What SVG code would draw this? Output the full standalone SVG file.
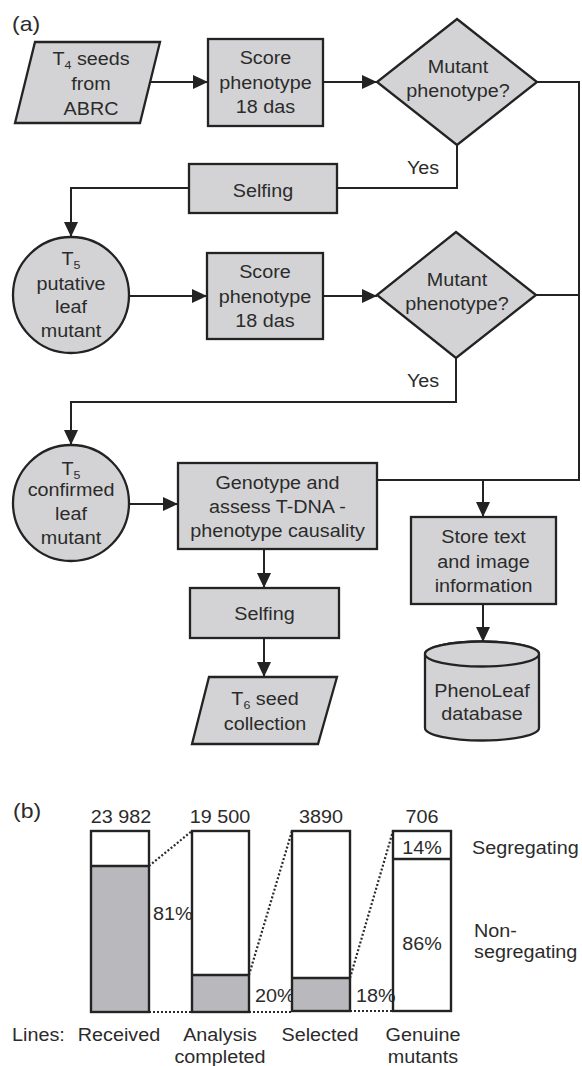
<svg xmlns="http://www.w3.org/2000/svg" width="582" height="1066" viewBox="0 0 582 1066">
<style>
.n{fill:#d3d3d5;stroke:#232323;stroke-width:2.3}
.t{font-family:"Liberation Sans",Arial,Helvetica,sans-serif;font-size:17.5px;fill:#2b2b2b;text-anchor:middle}
.s{font-size:11px}
.c{fill:none;stroke:#232323;stroke-width:2}
.a{marker-end:url(#ah)}
.d{fill:none;stroke:#2b2b2b;stroke-width:2.2;stroke-dasharray:2 2}
.bar{fill:none;stroke:#232323;stroke-width:2.4}
.g{fill:#b9b9bd;stroke:none}
.b{font-family:"Liberation Sans",Arial,Helvetica,sans-serif;font-size:18.5px;fill:#2b2b2b}
.m{text-anchor:middle}
.lbl{font-family:"Liberation Sans",Arial,Helvetica,sans-serif;font-size:20px;fill:#2b2b2b}
</style>
<defs>
<marker id="ah" markerUnits="userSpaceOnUse" markerWidth="15" markerHeight="14" refX="15" refY="7" orient="auto">
<path d="M0,0 L15,7 L0,14 Z" fill="#232323"/>
</marker>
</defs>
<rect width="582" height="1066" fill="#fff"/>

<text class="lbl" transform="translate(12,0) scale(1.15,1)" x="0" y="31">(a)</text>

<g id="connectors">
<path class="c a" d="M150,82 H208"/>
<path class="c a" d="M323,82 H377"/>
<path class="c" d="M457,145 V188 H337"/>
<path class="c a" d="M189,188 H71 V237"/>
<path class="c a" d="M129,296 H207"/>
<path class="c a" d="M323,296 H377"/>
<path class="c a" d="M456,358 V402 H71 V445"/>
<path class="c a" d="M129,504 H178"/>
<path class="c" d="M537,82 H579 V480 H377"/>
<path class="c" d="M536,295 H579"/>
<path class="c a" d="M483,480 V517"/>
<path class="c a" d="M483,604 V642"/>
<path class="c a" d="M264,549 V588"/>
<path class="c a" d="M264,638 V677"/>
</g>

<g id="t4seeds">
<polygon class="n" points="35,42 160,42 140,123 15,123"/>
<text class="t" transform="translate(91,0) scale(1.13,1)"><tspan x="0" y="65">T<tspan class="s" dy="4">4</tspan><tspan dy="-4"> seeds</tspan></tspan><tspan x="0" y="90">from</tspan><tspan x="0" y="115">ABRC</tspan></text>
</g>

<g id="score1">
<rect class="n" x="208" y="39" width="115" height="87"/>
<text class="t" transform="translate(265.5,0) scale(1.13,1)"><tspan x="0" y="64">Score</tspan><tspan x="0" y="89">phenotype</tspan><tspan x="0" y="113">18 das</tspan></text>
</g>

<g id="decision1">
<polygon class="n" points="457,19 537,82 457,145 377,82"/>
<text class="t" transform="translate(458,0) scale(1.13,1)"><tspan x="0" y="73">Mutant</tspan><tspan x="0" y="97">phenotype?</tspan></text>
</g>
<text class="t" transform="translate(423,0) scale(1.13,1)" x="0" y="174">Yes</text>

<g id="selfing1">
<rect class="n" x="189" y="164" width="148" height="49"/>
<text class="t" transform="translate(263,0) scale(1.13,1)" x="0" y="197">Selfing</text>
</g>

<g id="t5putative">
<circle class="n" cx="71" cy="295" r="58"/>
<text class="t" transform="translate(71,0) scale(1.13,1)"><tspan x="0" y="265">T<tspan class="s" dy="4">5</tspan></tspan><tspan x="0" y="290">putative</tspan><tspan x="0" y="313">leaf</tspan><tspan x="0" y="337">mutant</tspan></text>
</g>

<g id="score2">
<rect class="n" x="207" y="253" width="116" height="86"/>
<text class="t" transform="translate(265,0) scale(1.13,1)"><tspan x="0" y="278">Score</tspan><tspan x="0" y="303">phenotype</tspan><tspan x="0" y="327">18 das</tspan></text>
</g>

<g id="decision2">
<polygon class="n" points="456,232 536,295 456,358 377,295"/>
<text class="t" transform="translate(457,0) scale(1.13,1)"><tspan x="0" y="286">Mutant</tspan><tspan x="0" y="310">phenotype?</tspan></text>
</g>
<text class="t" transform="translate(423,0) scale(1.13,1)" x="0" y="387">Yes</text>

<g id="t5confirmed">
<circle class="n" cx="71" cy="503" r="58"/>
<text class="t" transform="translate(71,0) scale(1.13,1)"><tspan x="0" y="475">T<tspan class="s" dy="4">5</tspan></tspan><tspan x="0" y="496">confirmed</tspan><tspan x="0" y="520">leaf</tspan><tspan x="0" y="544">mutant</tspan></text>
</g>

<g id="genotype">
<rect class="n" x="178" y="463" width="199" height="86"/>
<text class="t" transform="translate(277.5,0) scale(1.13,1)"><tspan x="0" y="489">Genotype and</tspan><tspan x="0" y="513">assess T-DNA -</tspan><tspan x="0" y="537">phenotype causality</tspan></text>
</g>

<g id="store">
<rect class="n" x="411" y="517" width="145" height="87"/>
<text class="t" transform="translate(483.5,0) scale(1.13,1)"><tspan x="0" y="543">Store text</tspan><tspan x="0" y="568">and image</tspan><tspan x="0" y="592">information</tspan></text>
</g>

<g id="database">
<path class="n" d="M425,654 V728 A57,12.5 0 0 0 539,728 V654 A57,12.5 0 0 0 425,654 Z"/>
<ellipse class="n" cx="482" cy="654" rx="57" ry="12.5"/>
<text class="t" transform="translate(482,0) scale(1.13,1)"><tspan x="0" y="697">PhenoLeaf</tspan><tspan x="0" y="720">database</tspan></text>
</g>

<g id="selfing2">
<rect class="n" x="190" y="588" width="149" height="50"/>
<text class="t" transform="translate(264.5,0) scale(1.13,1)" x="0" y="620">Selfing</text>
</g>

<g id="t6seed">
<polygon class="n" points="209,677 337,677 318,744 192,744"/>
<text class="t" transform="translate(265,0) scale(1.13,1)"><tspan x="0" y="705">T<tspan class="s" dy="4">6</tspan><tspan dy="-4"> seed</tspan></tspan><tspan x="0" y="730">collection</tspan></text>
</g>

<text class="lbl" transform="translate(13,0) scale(1.15,1)" x="0" y="818">(b)</text>

<g id="chart-links">
<path class="d" d="M149,866 L192,831"/>
<path class="d" d="M149,1012 L192,1012"/>
<path class="d" d="M249,975 L292,831"/>
<path class="d" d="M249,1012 L292,1012"/>
<path class="d" d="M350,978 L393,831"/>
<path class="d" d="M350,1011 L393,1011"/>
</g>

<g id="bar-received">
<rect class="g" x="91" y="866" width="58" height="146"/>
<rect class="bar" x="91" y="831" width="58" height="181"/>
<line class="c" x1="91" y1="866" x2="149" y2="866" style="stroke-width:2.4"/>
<text class="b m" transform="translate(121,0) scale(1.07,1)" x="0" y="823">23 982</text>
<text class="b" transform="translate(153,0) scale(1.07,1)" x="0" y="920">81%</text>
</g>

<g id="bar-analysis">
<rect class="g" x="192" y="975" width="57" height="37"/>
<rect class="bar" x="192" y="831" width="57" height="181"/>
<line class="c" x1="192" y1="975" x2="249" y2="975" style="stroke-width:2.4"/>
<text class="b m" transform="translate(220,0) scale(1.07,1)" x="0" y="823">19 500</text>
<text class="b" transform="translate(255,0) scale(1.07,1)" x="0" y="1002">20%</text>
</g>

<g id="bar-selected">
<rect class="g" x="292" y="978" width="58" height="33"/>
<rect class="bar" x="292" y="831" width="58" height="180"/>
<line class="c" x1="292" y1="978" x2="350" y2="978" style="stroke-width:2.4"/>
<text class="b m" transform="translate(321,0) scale(1.07,1)" x="0" y="823">3890</text>
<text class="b" transform="translate(356,0) scale(1.07,1)" x="0" y="1002">18%</text>
</g>

<g id="bar-genuine">
<rect class="bar" x="393" y="831" width="58" height="180"/>
<line class="c" x1="393" y1="859" x2="451" y2="859" style="stroke-width:2.4"/>
<text class="b m" transform="translate(422,0) scale(1.07,1)" x="0" y="823">706</text>
<text class="b m" transform="translate(422,0) scale(1.07,1)" x="0" y="854">14%</text>
<text class="b m" transform="translate(422,0) scale(1.07,1)" x="0" y="950">86%</text>
</g>

<g id="legend">
<text class="b" transform="translate(472,0) scale(1.07,1)" x="0" y="854">Segregating</text>
<text class="b" transform="translate(474,0) scale(1.07,1)"><tspan x="0" y="937">Non-</tspan><tspan x="0" y="958">segregating</tspan></text>
</g>

<g id="axis-labels">
<text class="b" transform="translate(12,0) scale(1.07,1)" x="0" y="1041">Lines:</text>
<text class="b m" transform="translate(119,0) scale(1.07,1)" x="0" y="1041">Received</text>
<text class="b m" transform="translate(220,0) scale(1.07,1)"><tspan x="0" y="1041">Analysis</tspan><tspan x="0" y="1063">completed</tspan></text>
<text class="b m" transform="translate(320,0) scale(1.07,1)" x="0" y="1041">Selected</text>
<text class="b m" transform="translate(423,0) scale(1.07,1)"><tspan x="0" y="1041">Genuine</tspan><tspan x="0" y="1063">mutants</tspan></text>
</g>
</svg>
